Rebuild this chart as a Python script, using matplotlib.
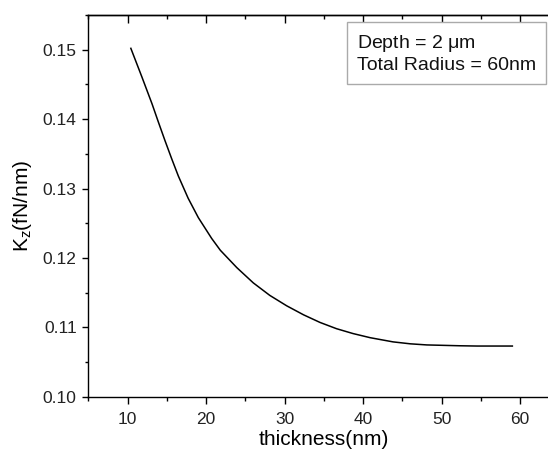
import matplotlib
matplotlib.use('Agg')
import matplotlib.pyplot as plt
from matplotlib.ticker import MultipleLocator, FormatStrFormatter

plt.rcParams['font.family'] = ['Liberation Sans', 'DejaVu Sans']
plt.rcParams['mathtext.default'] = 'regular'

# values
thickness = [10.4, 11.8, 13.1, 13.9, 14.75, 15.6, 16.45, 17.7, 19.0, 20.7,
             21.8, 23.9, 26.0, 28.1, 30.25, 32.4, 34.5, 36.6, 38.7, 40.9,
             43.8, 46.0, 48.1, 50.2, 52.3, 54.5, 59.0]
kz = [0.1502, 0.1461, 0.1422, 0.1396, 0.1369, 0.1343, 0.1318, 0.1286, 0.1258, 0.1228,
      0.1211, 0.1186, 0.1164, 0.1146, 0.1131, 0.1118, 0.1107, 0.1098, 0.1091, 0.1085,
      0.1079, 0.10762, 0.10746, 0.1074, 0.10734, 0.1073, 0.1073]

note = 'Depth = 2 $\\mu$m\nTotal Radius = 60nm'

fig = plt.figure(figsize=(5.48, 4.51), dpi=100)
# right spine of the original sits outside the picture
ax = fig.add_axes([0.1614, 0.1204, 0.8595, 0.8463])

ax.plot(thickness, kz, color='black', lw=1.1)

ax.set_xlim(5, 65)
ax.set_ylim(0.10, 0.155)
ax.xaxis.set_major_locator(MultipleLocator(10))
ax.xaxis.set_minor_locator(MultipleLocator(5))
ax.yaxis.set_major_locator(MultipleLocator(0.01))
ax.yaxis.set_minor_locator(MultipleLocator(0.005))
ax.yaxis.set_major_formatter(FormatStrFormatter('%.2f'))

for s in ax.spines.values():
    s.set_linewidth(1.0)
ax.spines['right'].set_visible(False)

ax.tick_params(which='both', top=False, right=False, width=1.0, labelsize=12.5,
               labelcolor='#222222')
ax.tick_params(axis='x', which='major', direction='out', length=5, pad=6)
ax.tick_params(axis='x', which='minor', direction='out', length=3)
ax.tick_params(axis='y', which='major', direction='out', length=4.5, pad=4)
ax.tick_params(axis='y', which='minor', direction='out', length=2.5)

# top ticks point inward
top = ax.secondary_xaxis('top')
top.xaxis.set_major_locator(MultipleLocator(10))
top.xaxis.set_minor_locator(MultipleLocator(5))
top.tick_params(which='both', direction='in', width=1.0, labeltop=False)
top.tick_params(which='major', length=6)
top.tick_params(which='minor', length=3)
top.spines['top'].set_linewidth(1.0)

ax.set_xlabel('thickness(nm)', fontsize=15, labelpad=2)
ax.set_ylabel('K$_z$(fN/nm)', fontsize=15, labelpad=6)

ax.text(0.570, 0.952, note, transform=ax.transAxes, fontsize=14,
        va='top', ha='left', linespacing=1.2, color='#111111',
        bbox=dict(boxstyle='square,pad=0.5', fc='white', ec='#aaaaaa', lw=1.0))

fig.savefig('out.png', dpi=100)
